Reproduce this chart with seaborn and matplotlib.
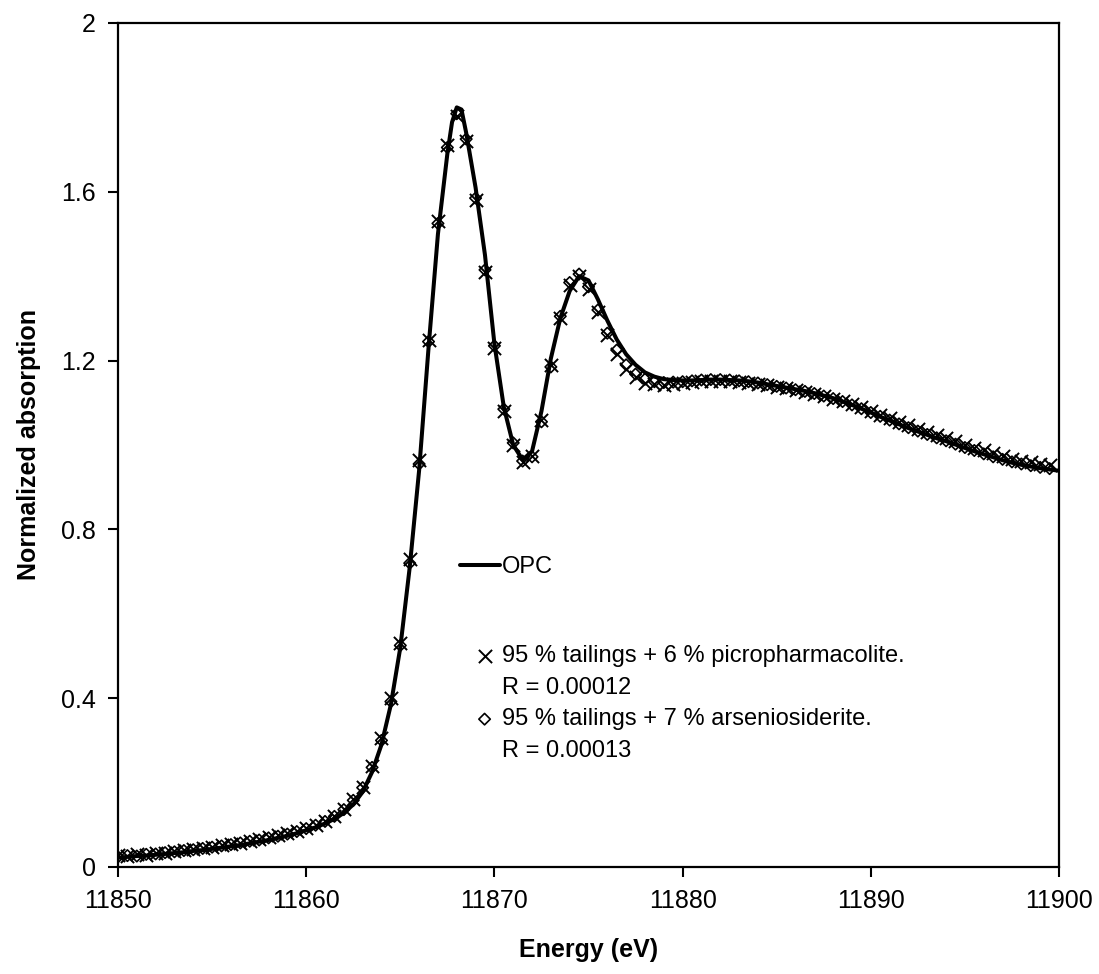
import seaborn as sns
import matplotlib.pyplot as plt
from matplotlib.lines import Line2D
from matplotlib.ticker import MultipleLocator, FuncFormatter

# OPC reference spectrum (solid line)
opc_energy = [
    11850.0, 11850.5, 11851.0, 11851.5, 11852.0, 11852.5, 11853.0, 11853.5, 11854.0, 11854.5,
    11855.0, 11855.5, 11856.0, 11856.5, 11857.0, 11857.5, 11858.0, 11858.5, 11859.0, 11859.5,
    11860.0, 11860.5, 11861.0, 11861.5, 11862.0, 11862.5, 11863.0, 11863.5, 11864.0, 11864.5,
    11865.0, 11865.5, 11866.0, 11866.5, 11867.0, 11867.5, 11867.75, 11868.0, 11868.25, 11868.5,
    11869.0, 11869.5, 11870.0, 11870.5, 11871.0, 11871.5, 11872.0, 11872.5, 11873.0, 11873.5,
    11874.0, 11874.5, 11875.0, 11875.5, 11876.0, 11876.5, 11877.0, 11877.5, 11878.0, 11878.5,
    11879.0, 11879.5, 11880.0, 11880.5, 11881.0, 11881.5, 11882.0, 11882.5, 11883.0, 11883.5,
    11884.0, 11884.5, 11885.0, 11885.5, 11886.0, 11886.5, 11887.0, 11887.5, 11888.0, 11888.5,
    11889.0, 11889.5, 11890.0, 11890.5, 11891.0, 11891.5, 11892.0, 11892.5, 11893.0, 11893.5,
    11894.0, 11894.5, 11895.0, 11895.5, 11896.0, 11896.5, 11897.0, 11897.5, 11898.0, 11898.5,
    11899.0, 11899.5, 11900.0,
]
opc = [
    0.022, 0.024, 0.026, 0.027, 0.029, 0.031, 0.033, 0.035, 0.038, 0.040,
    0.043, 0.046, 0.049, 0.052, 0.056, 0.060, 0.064, 0.069, 0.074, 0.080,
    0.087, 0.094, 0.103, 0.114, 0.128, 0.148, 0.178, 0.225, 0.290, 0.385,
    0.520, 0.710, 0.940, 1.230, 1.500, 1.690, 1.765, 1.800, 1.795, 1.740,
    1.610, 1.450, 1.240, 1.090, 1.000, 0.965, 0.985, 1.080, 1.205, 1.300,
    1.365, 1.400, 1.390, 1.345, 1.295, 1.250, 1.215, 1.190, 1.172, 1.162,
    1.156, 1.154, 1.153, 1.153, 1.154, 1.155, 1.155, 1.154, 1.153, 1.151,
    1.148, 1.144, 1.140, 1.136, 1.132, 1.128, 1.123, 1.117, 1.111, 1.103,
    1.095, 1.086, 1.077, 1.067, 1.058, 1.049, 1.040, 1.032, 1.024, 1.016,
    1.009, 1.001, 0.993, 0.985, 0.978, 0.971, 0.964, 0.958, 0.953, 0.949,
    0.945, 0.942, 0.939,
]

# fitted mixtures (markers)
fit_energy = [
    11850.0, 11850.5, 11851.0, 11851.5, 11852.0, 11852.5, 11853.0, 11853.5, 11854.0, 11854.5,
    11855.0, 11855.5, 11856.0, 11856.5, 11857.0, 11857.5, 11858.0, 11858.5, 11859.0, 11859.5,
    11860.0, 11860.5, 11861.0, 11861.5, 11862.0, 11862.5, 11863.0, 11863.5, 11864.0, 11864.5,
    11865.0, 11865.5, 11866.0, 11866.5, 11867.0, 11867.5, 11868.0, 11868.5, 11869.0, 11869.5,
    11870.0, 11870.5, 11871.0, 11871.5, 11872.0, 11872.5, 11873.0, 11873.5, 11874.0, 11874.5,
    11875.0, 11875.5, 11876.0, 11876.5, 11877.0, 11877.5, 11878.0, 11878.5, 11879.0, 11879.5,
    11880.0, 11880.5, 11881.0, 11881.5, 11882.0, 11882.5, 11883.0, 11883.5, 11884.0, 11884.5,
    11885.0, 11885.5, 11886.0, 11886.5, 11887.0, 11887.5, 11888.0, 11888.5, 11889.0, 11889.5,
    11890.0, 11890.5, 11891.0, 11891.5, 11892.0, 11892.5, 11893.0, 11893.5, 11894.0, 11894.5,
    11895.0, 11895.5, 11896.0, 11896.5, 11897.0, 11897.5, 11898.0, 11898.5, 11899.0, 11899.5,
]
picro_fit = [
    0.028, 0.026, 0.030, 0.029, 0.033, 0.034, 0.037, 0.040, 0.042, 0.045,
    0.048, 0.051, 0.054, 0.058, 0.062, 0.066, 0.070, 0.075, 0.080, 0.086,
    0.093, 0.100, 0.110, 0.122, 0.138, 0.160, 0.190, 0.240, 0.305, 0.400,
    0.530, 0.730, 0.965, 1.250, 1.530, 1.710, 1.780, 1.720, 1.580, 1.410,
    1.230, 1.080, 1.000, 0.960, 0.975, 1.060, 1.190, 1.300, 1.380, 1.400,
    1.370, 1.315, 1.260, 1.215, 1.180, 1.160, 1.148, 1.144, 1.143, 1.145,
    1.147, 1.149, 1.151, 1.152, 1.152, 1.151, 1.149, 1.147, 1.144, 1.141,
    1.138, 1.134, 1.130, 1.126, 1.121, 1.116, 1.110, 1.104, 1.097, 1.089,
    1.081, 1.072, 1.063, 1.055, 1.047, 1.039, 1.031, 1.023, 1.016, 1.009,
    1.001, 0.994, 0.987, 0.980, 0.974, 0.968, 0.963, 0.959, 0.956, 0.953,
]
arsen_fit = [
    0.024, 0.027, 0.026, 0.030, 0.031, 0.034, 0.036, 0.039, 0.041, 0.044,
    0.047, 0.050, 0.053, 0.057, 0.061, 0.064, 0.069, 0.073, 0.078, 0.084,
    0.091, 0.099, 0.108, 0.120, 0.136, 0.158, 0.188, 0.236, 0.300, 0.392,
    0.525, 0.720, 0.955, 1.245, 1.525, 1.705, 1.785, 1.725, 1.585, 1.415,
    1.235, 1.085, 1.005, 0.962, 0.972, 1.055, 1.185, 1.305, 1.385, 1.405,
    1.375, 1.320, 1.265, 1.225, 1.190, 1.168, 1.156, 1.150, 1.148, 1.149,
    1.150, 1.152, 1.154, 1.155, 1.155, 1.154, 1.152, 1.150, 1.147, 1.143,
    1.139, 1.135, 1.131, 1.127, 1.122, 1.116, 1.110, 1.103, 1.095, 1.086,
    1.077, 1.068, 1.059, 1.050, 1.041, 1.033, 1.025, 1.017, 1.010, 1.002,
    0.994, 0.987, 0.979, 0.972, 0.966, 0.960, 0.955, 0.951, 0.947, 0.944,
]

opc_label = "OPC"
fit_labels = ["95 % tailings + 6 % picropharmacolite.", "R = 0.00012",
              "95 % tailings + 7 % arseniosiderite.", "R = 0.00013"]

sns.set_style("ticks")
plt.rcParams['font.family'] = ['Liberation Sans', 'DejaVu Sans']
for k in ["text.color", "axes.labelcolor", "xtick.color", "ytick.color", "axes.edgecolor"]:
    plt.rcParams[k] = "black"

fig = plt.figure(figsize=(10.99, 9.74), dpi=100)
ax = fig.add_axes([118 / 1099, 1 - 867 / 974, 941 / 1099, 844 / 974])

sns.lineplot(x=opc_energy, y=opc, ax=ax, color="black", linewidth=2.9,
             label=opc_label, legend=False, zorder=3)
sns.scatterplot(x=fit_energy, y=picro_fit, ax=ax, marker="x", s=90, color="black",
                linewidth=1.4, label=fit_labels[0], legend=False, zorder=2)
sns.scatterplot(x=fit_energy, y=arsen_fit, ax=ax, marker="D", s=34, facecolor="none",
                edgecolor="black", linewidth=1.2, label=fit_labels[2], legend=False, zorder=2)

ax.set_xlim(11850, 11900)
ax.set_ylim(0, 2)
ax.xaxis.set_major_locator(MultipleLocator(10))
ax.yaxis.set_major_locator(MultipleLocator(0.4))
ax.yaxis.set_major_formatter(FuncFormatter(lambda v, p: f"{v:g}"))
ax.tick_params(axis="both", direction="out", length=7, width=1.5, labelsize=18, pad=9,
               top=False, right=False)
for sp in ax.spines.values():
    sp.set_visible(True)
    sp.set_linewidth(1.6)

ax.set_xlabel("Energy (eV)", fontsize=18, fontweight="bold", labelpad=18)
ax.set_ylabel("Normalized absorption", fontsize=18, fontweight="bold", labelpad=14)

handles, labs = ax.get_legend_handles_labels()
leg1 = ax.legend(handles[:1], labs[:1], loc="center left", bbox_to_anchor=(0.363, 0.355),
                 frameon=False, fontsize=17, handlelength=1.7, handletextpad=0.1,
                 borderpad=0, borderaxespad=0)
ax.add_artist(leg1)
blank = Line2D([], [], linestyle="none")
ax.legend([handles[1], blank, handles[2], blank], fit_labels, loc="upper left",
          bbox_to_anchor=(0.377, 0.2625), frameon=False, fontsize=17, handlelength=1.0,
          handletextpad=0.25, borderpad=0, borderaxespad=0, labelspacing=0.4)

fig.savefig("out.png", dpi=100)
